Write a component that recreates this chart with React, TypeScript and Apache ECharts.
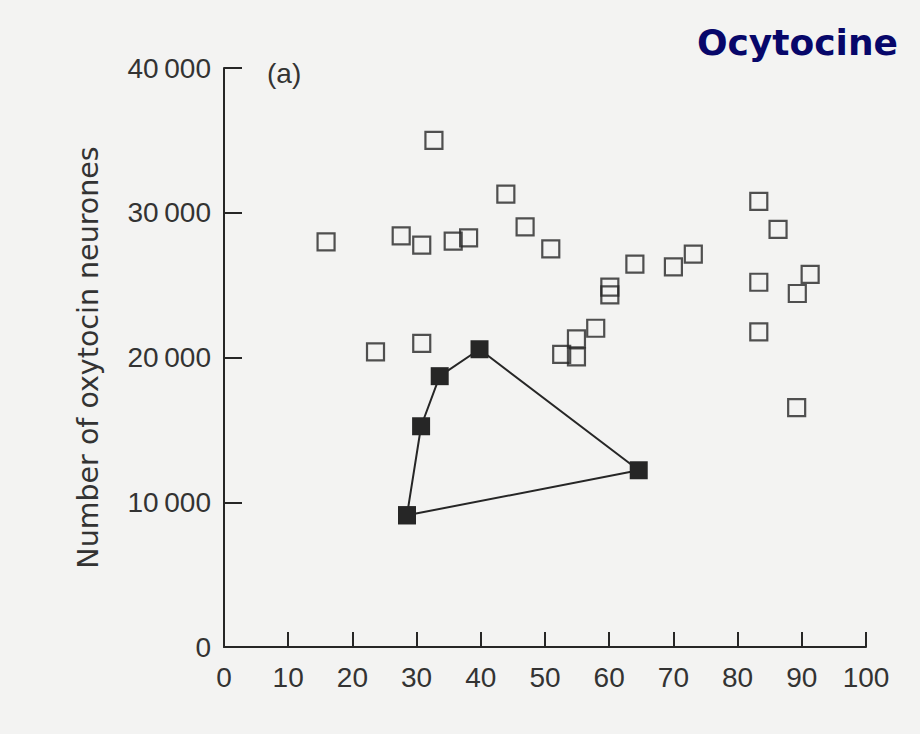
import React, { useEffect, useRef } from "react";
import * as echarts from "echarts";

const xTicks = [0, 10, 20, 30, 40, 50, 60, 70, 80, 90, 100];
const yTicks = [0, 10000, 20000, 30000, 40000];

// Open squares (control group)
const openAge = [15.9, 32.7, 23.6, 27.6, 30.8, 30.8, 35.7, 38.1, 43.9, 46.9, 50.9, 52.6, 54.9, 54.9, 57.9, 60.1, 60.1, 64.0, 70.0, 73.1, 83.3, 83.3, 83.3, 86.3, 89.3, 91.3, 89.2];
const openCount = [27990, 35000, 20390, 28400, 27760, 20970, 28040, 28270, 31290, 29030, 27510, 20210, 21290, 20040, 22020, 24860, 24330, 26450, 26260, 27140, 30780, 25200, 21770, 28850, 24420, 25740, 16540];

// Filled squares (connected, closed polygon)
const filledAge = [28.5, 30.7, 33.6, 39.8, 64.6];
const filledCount = [9100, 15250, 18710, 20570, 12210];

const title = "Ocytocine";
const panelLabel = "(a)";
const yName = "Number of oxytocin neurones";

const ink = "#262626";
const textInk = "#333333";

export default function App() {
  const ref = useRef<HTMLDivElement>(null);

  useEffect(() => {
    if (!ref.current) return;
    const chart = echarts.init(ref.current, null, { renderer: "svg" });

    const openData = openAge.map((x, i) => [x, openCount[i]]);
    const filledData = filledAge.map((x, i) => [x, filledCount[i]]);
    filledData.push([filledAge[0], filledCount[0]]);

    chart.setOption({
      animation: false,
      backgroundColor: "#f3f3f2",
      grid: { left: 224, right: 54, top: 68, bottom: 87, containLabel: false },
      xAxis: {
        type: "value",
        min: xTicks[0],
        max: xTicks[xTicks.length - 1],
        interval: 10,
        axisLine: { show: true, lineStyle: { color: ink, width: 2 } },
        axisTick: { show: true, inside: true, length: 15, lineStyle: { color: ink, width: 2 } },
        splitLine: { show: false },
        axisLabel: {
          color: textInk,
          fontFamily: "Liberation Sans",
          fontSize: 28,
          margin: 16,
          formatter: (v: number) => String(v),
        },
      },
      yAxis: {
        type: "value",
        min: yTicks[0],
        max: yTicks[yTicks.length - 1],
        interval: 10000,
        name: yName,
        nameLocation: "middle",
        nameGap: 121,
        nameTextStyle: { color: textInk, fontFamily: "DejaVu Sans", fontSize: 28.5 },
        axisLine: { show: true, lineStyle: { color: ink, width: 2 } },
        axisTick: { show: true, inside: true, length: 18, lineStyle: { color: ink, width: 2 } },
        splitLine: { show: false },
        axisLabel: {
          color: textInk,
          fontFamily: "Liberation Sans",
          fontSize: 28,
          margin: 13,
          formatter: (v: number) => {
            if (v === 0) return "0";
            const s = String(v);
            return s.slice(0, s.length - 3) + "\u2009" + s.slice(s.length - 3);
          },
        },
      },
      graphic: [
        {
          type: "text",
          style: {
            text: panelLabel,
            x: 267,
            y: 73,
            verticalAlign: "middle",
            fill: textInk,
            font: "28px 'Liberation Sans'",
          },
        },
        {
          type: "text",
          style: {
            text: title,
            x: 898,
            y: 42,
            textAlign: "right",
            verticalAlign: "middle",
            fill: "#07076a",
            font: "bold 36px 'DejaVu Sans'",
          },
        },
      ],
      series: [
        {
          type: "scatter",
          data: openData,
          symbol: "rect",
          symbolSize: 17,
          itemStyle: { color: "rgba(0,0,0,0)", borderColor: ink, borderWidth: 2.2 },
          z: 3,
        },
        {
          type: "line",
          data: filledData,
          symbol: "rect",
          symbolSize: 18,
          showAllSymbol: true,
          itemStyle: { color: ink, borderWidth: 0 },
          lineStyle: { color: ink, width: 2 },
          z: 4,
        },
      ],
    });

    return () => chart.dispose();
  }, []);

  return (
    <div
      ref={ref}
      style={{ position: "fixed", left: 0, top: 0, width: 920, height: 734 }}
    />
  );
}
